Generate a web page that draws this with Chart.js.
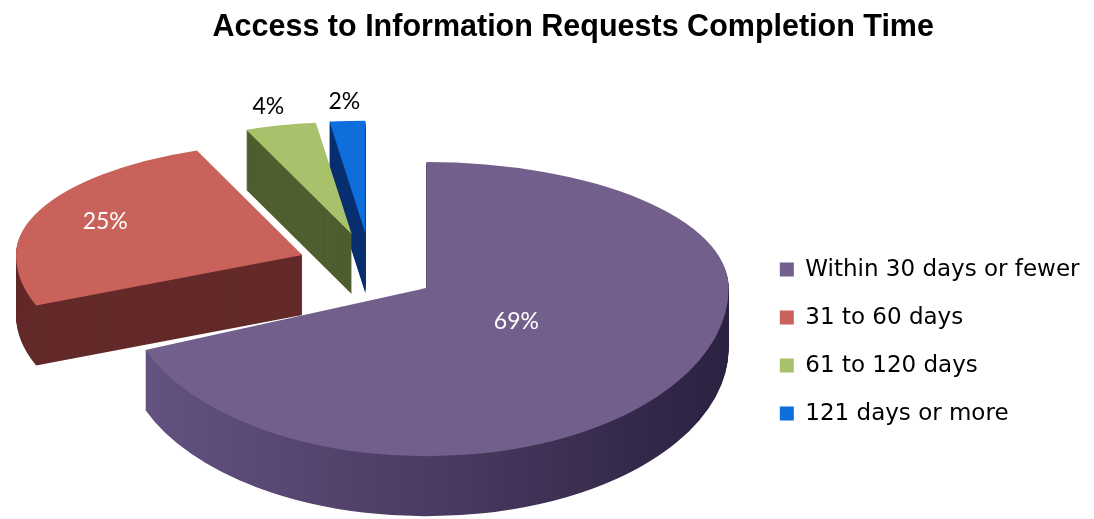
<!DOCTYPE html>
<html><head><meta charset="utf-8">
<script src="https://cdn.jsdelivr.net/npm/chart.js@4.4.1/dist/chart.umd.min.js"></script>
<style>html,body{margin:0;padding:0;background:#fff;overflow:hidden}</style>
</head><body>
<canvas id="c" width="1094" height="519"></canvas>
<script>
const titleText = 'Access to Information Requests Completion Time';
const categories = ['Within 30 days or fewer', '31 to 60 days', '61 to 120 days', '121 days or more'];
const percentValues = [69, 25, 4, 2];

const topColors = ['#735F8B', '#C9625B', '#A8C26B', '#0E6FDC'];
const sideColors = ['#4B3C63', '#642A2A', '#4F5F2F', '#0A3070'];
const purpleSideStops = ['#655383', '#4B3C63', '#2B2140'];
const explode = [0, 59, 59, 59];
const labelRadius = [0.36, 0.75, 1.17, 1.17];
const labelColors = ['#ffffff', '#ffffff', '#000000', '#000000'];

const view = {
  main: { sx: 1.32, syBack: 0.55, syFront: 0.735 },
  exploded: { sx: 1.25, syBack: 0.49, syFront: 0.6 },
  explodeSy: 0.621, biasX: -0.957, biasY: -0.314,
  depth: 60, shiftX: 20.5, shiftY: -2
};

const pie3d = {
  id: 'pie3d',
  beforeDatasetsDraw(chart) {
    const ctx = chart.ctx;
    const arcs = chart.getDatasetMeta(0).data;
    if (!arcs.length) return false;
    const R = arcs[0].outerRadius, ox = arcs[0].x, oy = arcs[0].y;
    const scaleOf = i => explode[i] > 0 ? view.exploded : view.main;
    const expl = arcs.map((a, i) => {
      const m = (a.startAngle + a.endAngle) / 2;
      const e = explode[i], s = scaleOf(i);
      const dx = e * Math.cos(m) * s.sx + e * view.biasX;
      const dy = e * Math.sin(m) * view.explodeSy + e * view.biasY;
      return { dx: dx + view.shiftX, dy: dy + view.shiftY, m };
    });
    function drawArc(i, fill, dx, dy) {
      const a = arcs[i], s = scaleOf(i);
      const el = Object.create(a);
      el.options = Object.assign({}, a.options, { backgroundColor: fill, borderWidth: 0, offset: 0, spacing: 0 });
      const halves = [[s.syBack, -20000, oy + 0.6], [s.syFront, oy - 0.6, 20000]];
      for (const [sy, y0, y1] of halves) {
        ctx.save();
        ctx.translate(dx, dy);
        ctx.beginPath();
        ctx.rect(-20000, y0, 40000, y1 - y0);
        ctx.clip();
        ctx.translate(ox, oy);
        ctx.scale(s.sx, sy);
        ctx.translate(-ox, -oy);
        el.draw(ctx);
        ctx.restore();
      }
    }
    const order = [3, 2, 1, 0];
    for (const i of order) {
      let fill = sideColors[i];
      if (i === 0) {
        fill = ctx.createLinearGradient(ox - R, 0, ox + R, 0);
        fill.addColorStop(0, purpleSideStops[0]);
        fill.addColorStop(0.5, purpleSideStops[1]);
        fill.addColorStop(1, purpleSideStops[2]);
      }
      for (let d = view.depth; d >= 1; d--) drawArc(i, fill, expl[i].dx, expl[i].dy + d);
    }
    for (const i of order) drawArc(i, topColors[i], expl[i].dx, expl[i].dy);

    const total = percentValues.reduce((s, v) => s + v, 0);
    ctx.save();
    ctx.font = '23px Lato';
    ctx.textAlign = 'center';
    ctx.textBaseline = 'middle';
    arcs.forEach((a, i) => {
      const e = expl[i], m = e.m, r = R * labelRadius[i], s = scaleOf(i);
      const sy = Math.sin(m) < 0 ? s.syBack : s.syFront;
      const x = ox + Math.cos(m) * r * s.sx + e.dx;
      const y = oy + Math.sin(m) * r * sy + e.dy;
      ctx.fillStyle = labelColors[i];
      ctx.fillText(Math.round(percentValues[i] / total * 100) + '%', x, y);
    });
    ctx.restore();
    return false;
  }
};

new Chart(document.getElementById('c'), {
  type: 'pie',
  data: {
    labels: categories,
    datasets: [{ data: percentValues, backgroundColor: topColors, borderWidth: 0 }]
  },
  plugins: [pie3d],
  options: {
    responsive: false,
    animation: false,
    events: [],
    layout: { padding: { left: 57, right: 4.5, top: 0, bottom: 0 } },
    plugins: {
      title: {
        display: true, text: titleText, color: '#000',
        font: { family: 'Liberation Sans', size: 30.5, weight: 'bold' },
        padding: { top: 9, bottom: 15.4 }
      },
      legend: {
        position: 'right',
        title: { display: true, text: '', font: { size: 1 }, padding: { top: 0, bottom: 163 } },
        labels: {
          boxWidth: 14, boxHeight: 14, padding: 25, color: '#000',
          font: { family: 'DejaVu Sans', size: 23 }
        }
      },
      tooltip: { enabled: false }
    }
  }
});
</script>
</body></html>
